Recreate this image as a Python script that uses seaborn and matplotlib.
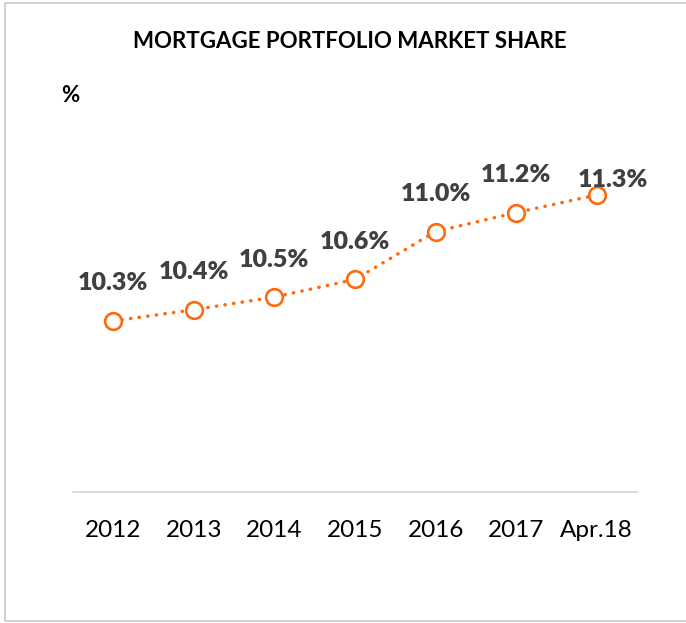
import matplotlib
matplotlib.use("Agg")
import matplotlib.pyplot as plt
import seaborn as sns
import pandas as pd
from matplotlib.patches import Rectangle

# Dane
periods = ['2012', '2013', '2014', '2015', '2016', '2017', 'Apr.18']
share = [10.30, 10.39, 10.49, 10.63, 11.01, 11.16, 11.30]
labels = ['10.3%', '10.4%', '10.5%', '10.6%', '11.0%', '11.2%', '11.3%']

orange = '#FF6A0D'

sns.set_theme(style="white")
plt.rcParams['font.family'] = ['Lato', 'DejaVu Sans']

df = pd.DataFrame({'period': periods, 'share': share})

fig = plt.figure(figsize=(6.86, 6.23), dpi=100)
ax = fig.add_axes([73 / 686, 131 / 623, 564 / 686, 372 / 623])

sns.lineplot(
    data=df, x='period', y='share', ax=ax,
    color=orange, linewidth=2.5,
    linestyle=(0, (0.1, 2.4)), dash_capstyle='round',
    marker='o', markersize=12, markerfacecolor='white',
    markeredgecolor=orange, markeredgewidth=1.9,
)

# Etykiety wartości nad punktami
for i, (v, lab) in enumerate(zip(share, labels)):
    off = (12, 11) if i == len(share) - 1 else (0, 27)
    ax.annotate(lab, (i, v), xytext=off, textcoords='offset points',
                ha='center', va='center', fontsize=18, fontweight='heavy',
                color='#404040')

ax.set_xlim(-0.5, 6.5)
ax.set_ylim(8.943, 11.895)
ax.set_xlabel('')
ax.set_ylabel('')
ax.set_yticks([])
ax.tick_params(axis='x', length=0, pad=20, labelsize=17.5, labelcolor='black')
for side in ['top', 'left', 'right']:
    ax.spines[side].set_visible(False)
ax.spines['bottom'].set_color('#D9D9D9')
ax.spines['bottom'].set_linewidth(1.3)

fig.text(350 / 686, 1 - 42 / 623, 'MORTGAGE PORTFOLIO MARKET SHARE',
         ha='center', va='center', fontsize=16, fontweight='bold', color='black')
fig.text(61 / 686, 1 - 95 / 623, '%', ha='left', va='center',
         fontsize=16, fontweight='bold', color='black')

# Ramka wokół wykresu
fig.patches.append(Rectangle((5 / 686, 2 / 623), 1.0, 618 / 623,
                             transform=fig.transFigure, fill=False,
                             edgecolor='#C8C8C8', linewidth=1.2))

fig.savefig('out.png', dpi=100)
